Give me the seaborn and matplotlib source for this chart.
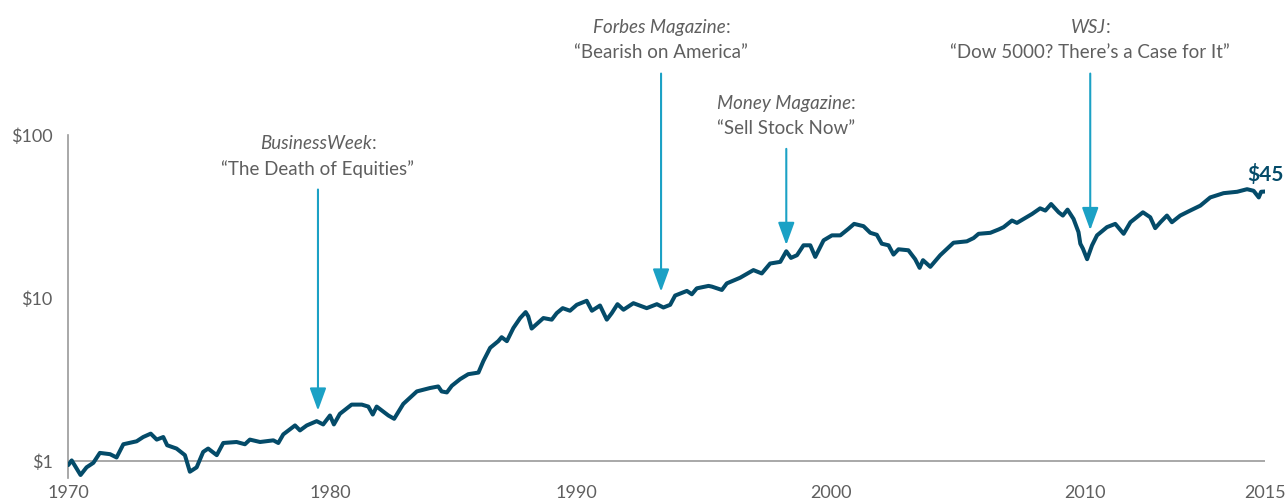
import matplotlib
matplotlib.use("Agg")
import matplotlib.pyplot as plt
import seaborn as sns
import pandas as pd

# Growth of $1, 1970-2015
years = [1970.13, 1970.26, 1970.60, 1970.83, 1971.09, 1971.34, 1971.73, 1971.98,
         1972.24, 1972.75, 1973.00, 1973.29, 1973.52, 1973.77, 1973.92, 1974.28,
         1974.60, 1974.79, 1975.05, 1975.30, 1975.49, 1975.82, 1976.07, 1976.58,
         1976.90, 1977.09, 1977.48, 1977.99, 1978.18, 1978.37, 1978.82, 1979.01,
         1979.27, 1979.65, 1979.90, 1980.16, 1980.31, 1980.54, 1980.99, 1981.38,
         1981.63, 1981.80, 1981.95, 1982.40, 1982.62, 1982.97, 1983.49, 1983.99,
         1984.31, 1984.44, 1984.64, 1984.83, 1985.15, 1985.46, 1985.85, 1986.04,
         1986.30, 1986.61, 1986.74, 1986.94, 1987.19, 1987.45, 1987.66, 1987.76,
         1987.89, 1988.34, 1988.66, 1988.85, 1989.08, 1989.36, 1989.62, 1990.00,
         1990.20, 1990.51, 1990.77, 1990.96, 1991.18, 1991.41, 1991.79, 1992.30,
         1992.69, 1992.94, 1993.20, 1993.39, 1993.84, 1994.03, 1994.22, 1994.67,
         1994.80, 1995.18, 1995.37, 1995.88, 1996.39, 1996.71, 1997.03, 1997.42,
         1997.65, 1997.83, 1998.06, 1998.31, 1998.57, 1998.76, 1999.08, 1999.40,
         1999.72, 2000.03, 2000.25, 2000.61, 2000.87, 2001.12, 2001.31, 2001.57,
         2001.76, 2001.95, 2002.33, 2002.59, 2002.76, 2002.89, 2003.17, 2003.55,
         2004.06, 2004.57, 2004.83, 2005.02, 2005.47, 2005.79, 2005.98, 2006.30,
         2006.49, 2007.07, 2007.38, 2007.58, 2007.80, 2008.09, 2008.25, 2008.43,
         2008.66, 2008.85, 2008.92, 2009.02, 2009.18, 2009.37, 2009.56, 2009.94,
         2010.26, 2010.58, 2010.84, 2011.32, 2011.60, 2011.79, 2011.99, 2012.24,
         2012.43, 2012.75, 2013.13, 2013.52, 2013.90, 2014.41, 2014.93, 2015.31,
         2015.56, 2015.76, 2015.85, 2016.00]
growth = [0.946, 1.01, 0.822, 0.916, 0.976, 1.123, 1.103, 1.053,
          1.269, 1.323, 1.405, 1.474, 1.355, 1.405, 1.251, 1.194,
          1.088, 0.861, 0.916, 1.139, 1.194, 1.088, 1.292, 1.31,
          1.269, 1.355, 1.31, 1.341, 1.292, 1.459, 1.655, 1.543,
          1.655, 1.758, 1.679, 1.904, 1.679, 1.95, 2.221, 2.221,
          2.16, 1.931, 2.16, 1.904, 1.818, 2.243, 2.676, 2.806,
          2.87, 2.676, 2.638, 2.897, 3.183, 3.413, 3.491, 4.111,
          4.953, 5.44, 5.753, 5.44, 6.553, 7.539, 8.2, 7.72,
          6.498, 7.54, 7.37, 8.08, 8.67, 8.36, 9.09, 9.62,
          8.36, 9.00, 7.37, 8.08, 9.17, 8.48, 9.30, 8.67,
          9.17, 8.75, 9.09, 10.36, 11.06, 10.55, 11.47, 11.87,
          11.75, 11.21, 12.30, 13.32, 14.84, 14.15, 16.28, 16.67,
          19.36, 17.63, 18.31, 21.06, 21.06, 17.88, 22.59, 24.23,
          24.23, 26.57, 28.50, 27.59, 25.12, 24.43, 21.54, 21.06,
          18.47, 19.91, 19.63, 17.31, 15.32, 17.07, 15.54, 18.31,
          21.84, 22.27, 23.33, 24.77, 25.12, 26.34, 27.21, 29.88,
          28.89, 32.78, 35.49, 34.38, 37.71, 33.56, 32.05, 34.85,
          30.56, 25.37, 21.54, 20.08, 17.31, 21.06, 24.23, 27.21,
          28.50, 24.77, 29.17, 33.56, 31.29, 26.83, 29.17, 32.05,
          29.17, 32.05, 34.38, 36.87, 41.40, 43.97, 44.84, 46.50,
          45.48, 41.40, 44.84, 45.0]

# Headlines
event_titles = ["BusinessWeek", "Forbes Magazine", "Money Magazine", "WSJ"]
event_quotes = ["\u201cThe Death of Equities\u201d", "\u201cBearish on America\u201d",
                "\u201cSell Stock Now\u201d", "\u201cDow 5000? There\u2019s a Case for It\u201d"]
event_years = [1979.70, 1992.85, 1997.65, 2009.30]
event_tips = [2.04, 10.95, 21.15, 26.09]
event_tails = [46.3, 238, 82.2, 238]

y_ticks = [1, 10, 100]
y_labels = ["$1", "$10", "$100"]
x_ticks = [1970.12, 1980.16, 1989.59, 1999.37, 2009.11, 2016.0]
x_labels = ["1970", "1980", "1990", "2000", "2010", "2015"]
end_label = "$45"

NAVY = "#044b69"
BLUE = "#1ba1c5"
GREY = "#5f5f5f"
AXIS = "#9a9a9a"

sns.set_theme(style="white")
plt.rcParams['font.family'] = ['Lato', 'DejaVu Sans']

df = pd.DataFrame({"year": years, "value": growth})

fig = plt.figure(figsize=(12.86, 5.04), dpi=100)
ax = fig.add_axes([0.0529, 0.0516, 0.9308, 0.6806])

ax.axhline(1, color=AXIS, lw=1.2, zorder=1)
sns.lineplot(data=df, x="year", y="value", ax=ax, color=NAVY, linewidth=2.9, zorder=3)

ax.set_yscale("log")
ax.set_ylim(0.788, 100)
ax.set_xlim(1970.12, 2016.0)
ax.set_yticks(y_ticks)
ax.set_yticklabels(y_labels)
ax.minorticks_off()
ax.set_xticks(x_ticks)
ax.set_xticklabels(x_labels)
ax.tick_params(axis="y", length=0, pad=11, labelsize=13, labelcolor=GREY)
ax.tick_params(axis="x", length=0, pad=5, labelsize=13, labelcolor=GREY)
ax.set_xlabel("")
ax.set_ylabel("")

for side in ["top", "right", "bottom"]:
    ax.spines[side].set_visible(False)
ax.spines["left"].set_color(AXIS)
ax.spines["left"].set_linewidth(1.2)

for title, quote, yr, tip, tail in zip(event_titles, event_quotes, event_years,
                                       event_tips, event_tails):
    ax.annotate("", xy=(yr, tip), xytext=(yr, tail), annotation_clip=False,
                arrowprops=dict(arrowstyle="-|>,head_length=1.15,head_width=0.42",
                                color=BLUE, lw=1.5, shrinkA=0, shrinkB=0))
    ax.annotate(quote, xy=(yr, tail), xytext=(0, 15), textcoords="offset points",
                ha="center", va="center", fontsize=13.5, color=GREY,
                annotation_clip=False)
    # italic name followed by an upright colon
    name = ax.annotate(title, xy=(yr, tail), xytext=(-1.5, 33),
                       textcoords="offset points", ha="center", va="center",
                       fontsize=13.5, color=GREY, style="italic",
                       annotation_clip=False)
    ax.annotate(":", xy=(1, 0), xycoords=name, ha="left", va="bottom",
                fontsize=13.5, color=GREY, annotation_clip=False)

ax.annotate(end_label, xy=(years[-1], growth[-1]), xytext=(0, 12),
            textcoords="offset points", ha="center", va="center", fontsize=15,
            fontweight="bold", color=NAVY, annotation_clip=False)

fig.savefig("out.png", dpi=100)
